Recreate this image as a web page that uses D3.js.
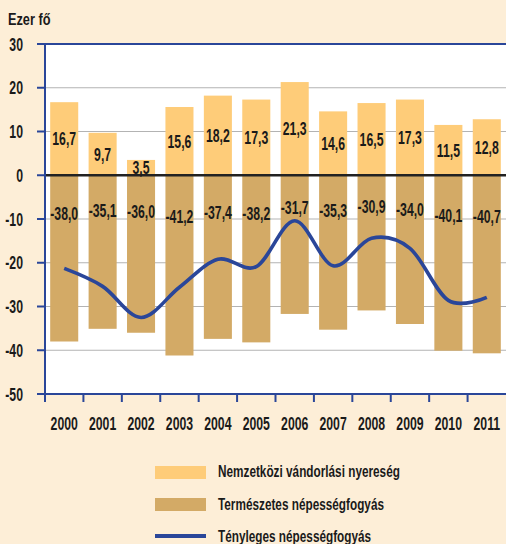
<!DOCTYPE html>
<html><head><meta charset="utf-8">
<script src="https://cdn.jsdelivr.net/npm/d3@7"></script>
<style>body{margin:0;background:#fdeed7}svg{display:block}</style>
</head><body>
<script>
const years = ["2000","2001","2002","2003","2004","2005","2006","2007","2008","2009","2010","2011"];
const migration = [16.7, 9.7, 3.5, 15.6, 18.2, 17.3, 21.3, 14.6, 16.5, 17.3, 11.5, 12.8];
const natural = [-38.0, -35.1, -36.0, -41.2, -37.4, -38.2, -31.7, -35.3, -30.9, -34.0, -40.1, -40.7];
const actual = [-21.3, -25.4, -32.5, -25.6, -19.2, -20.9, -10.4, -20.7, -14.4, -16.7, -28.6, -27.9];
const yTicks = [30, 20, 10, 0, -10, -20, -30, -40, -50];
const seriesNames = ["Nemzetközi vándorlási nyereség", "Természetes népességfogyás", "Tényleges népességfogyás"];
const unitLabel = "Ezer fő";

(function(){
const W = 506, H = 544;
const C = {bg:"#fdeed7", light:"#fecc79", tan:"#d3aa66", blue:"#2a4699", grid:"#b3b3b3"};
const FONT = "'Liberation Sans',Arial,sans-serif";

const svg = d3.select("body").append("svg").attr("width", W).attr("height", H);
svg.append("rect").attr("width", W).attr("height", H).attr("fill", C.bg);

function measure(s, size) {
  const t = svg.append("text").attr("font-family", FONT).attr("font-size", size)
    .attr("font-weight", "bold").text(s);
  const w = t.node().getComputedTextLength();
  t.remove();
  return w;
}
const SX = 27.3 / measure("2000", 17.5);
const SXL = 182 / measure(seriesNames[0], 16.5);
const fmt = v => d3.format(".1f")(v).replace(".", ",").replace("\u2212", "-");

const pL = 45, pR = 506, pT = 44, pB = 394;
const x = d3.scaleBand().domain(years).range([pL, pR]).padding(0);
const y = d3.scaleLinear().domain([-50, 30]).range([pB, pT]);
const bw = x.bandwidth() * 0.73;

function txt(g, tx, ty, s, anchor, size, sx) {
  return g.append("text")
    .attr("transform", `translate(${tx},${ty}) scale(${sx || SX},1)`)
    .attr("text-anchor", anchor || "middle")
    .attr("font-family", FONT).attr("font-size", size || 17.5)
    .attr("font-weight", "bold").attr("fill", "#1a1a1a").text(s);
}

svg.append("rect").attr("x", pL).attr("y", pT).attr("width", pR - pL).attr("height", pB - pT).attr("fill", "#fff");

svg.append("g").selectAll("line").data(yTicks.filter(t => t !== 30 && t !== 0 && t !== -50)).join("line")
  .attr("x1", pL).attr("x2", pR).attr("y1", d => y(d)).attr("y2", d => y(d))
  .attr("stroke", C.grid).attr("stroke-width", 1.2);

const idx = d3.range(years.length);
svg.append("g").selectAll("rect").data(idx).join("rect")
  .attr("x", i => x(years[i]) + (x.bandwidth() - bw) / 2).attr("width", bw)
  .attr("y", i => y(migration[i])).attr("height", i => y(0) - y(migration[i]))
  .attr("fill", C.light);
svg.append("g").selectAll("rect").data(idx).join("rect")
  .attr("x", i => x(years[i]) + (x.bandwidth() - bw) / 2).attr("width", bw)
  .attr("y", y(0)).attr("height", i => y(natural[i]) - y(0))
  .attr("fill", C.tan);

svg.append("line").attr("x1", pL).attr("x2", pR).attr("y1", y(0)).attr("y2", y(0))
  .attr("stroke", "#222").attr("stroke-width", 2.6);

const line = d3.line().x((d, i) => x(years[i]) + x.bandwidth() / 2).y(d => y(d)).curve(d3.curveCardinal.tension(0));
svg.append("path").datum(actual).attr("d", line).attr("fill", "none")
  .attr("stroke", C.blue).attr("stroke-width", 3.6).attr("stroke-linecap", "butt");

const lg = svg.append("g");
idx.forEach(i => {
  const cx = x(years[i]) + x.bandwidth() / 2;
  txt(lg, cx, (y(migration[i]) + y(0)) / 2 + 6.5, fmt(migration[i]));
  txt(lg, cx, y(natural[i] * 0.23) + 6.5, fmt(natural[i]));
});

const ax = svg.append("g").attr("stroke", C.blue).attr("stroke-width", 2);
ax.append("line").attr("x1", pL).attr("x2", pL).attr("y1", pT).attr("y2", pB);
ax.append("line").attr("x1", 37).attr("x2", pR).attr("y1", pT).attr("y2", pT);
ax.append("line").attr("x1", 37).attr("x2", pR).attr("y1", pB).attr("y2", pB);
ax.selectAll(".yt").data(yTicks).join("line").attr("class", "yt")
  .attr("x1", 37).attr("x2", pL).attr("y1", d => y(d)).attr("y2", d => y(d));
ax.selectAll(".xt").data(years).join("line").attr("class", "xt")
  .attr("x1", d => x(d)).attr("x2", d => x(d)).attr("y1", pB).attr("y2", pB + 8);

const tg = svg.append("g");
yTicks.forEach(t => txt(tg, 23, y(t) + 6.5, String(t), "end"));
years.forEach(yr => txt(tg, x(yr) + x.bandwidth() / 2, 430, yr));
txt(tg, 8, 25, unitLabel, "start", 17, SXL * 1.05);

const leg = svg.append("g");
leg.append("rect").attr("x", 155).attr("y", 466).attr("width", 51).attr("height", 13).attr("fill", C.light);
leg.append("rect").attr("x", 155).attr("y", 498).attr("width", 51).attr("height", 13).attr("fill", C.tan);
leg.append("line").attr("x1", 155).attr("x2", 206).attr("y1", 536).attr("y2", 536).attr("stroke", C.blue).attr("stroke-width", 4);
txt(leg, 218, 477, seriesNames[0], "start", 16.5, SXL);
txt(leg, 218, 510, seriesNames[1], "start", 16.5, SXL);
txt(leg, 218, 542, seriesNames[2], "start", 16.5, SXL);
})();
</script>
</body></html>
